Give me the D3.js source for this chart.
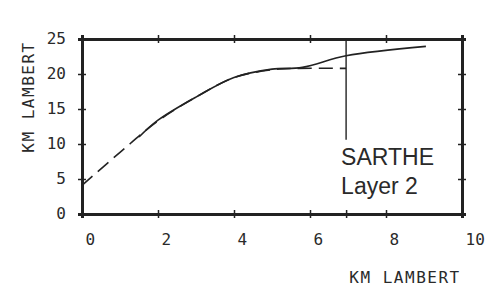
<!DOCTYPE html>
<html>
<head>
<meta charset="utf-8">
<script src="https://cdn.jsdelivr.net/npm/d3@7"></script>
<style>
  body { margin: 0; background: #fff; }
  svg { display: block; }
  .tick text { font-family: "DejaVu Sans Mono", monospace; fill: #2a2a2a; }
</style>
</head>
<body>
<svg width="502" height="287"></svg>
<script>
// values
var xTicks = [0, 2, 4, 6, 8, 10];
var yTicks = [0, 5, 10, 15, 20, 25];
var dashX = [0, 1, 2, 3, 4, 5, 5.6, 6.95];
var dashY = [4.1, 8.8, 13.3, 16.7, 19.5, 20.6, 20.8, 20.8];
var solidX = [1.5, 2, 3, 4, 5, 5.8, 6.95, 9.05];
var solidY = [11.0, 13.4, 16.7, 19.5, 20.7, 20.95, 22.6, 23.95];
var markerX = 6.95, markerTop = 10.6;

var svg = d3.select("svg");
var x = d3.scaleLinear().domain([0, 10]).range([82, 462]);
var y = d3.scaleLinear().domain([0, 25]).range([214, 39]);
var ink = "#222";

var line = d3.line()
    .x(function(d) { return x(d[0]); })
    .y(function(d) { return y(d[1]); })
    .curve(d3.curveCatmullRom.alpha(0.5));

// crossing tick marks (out + in) on all four sides
function frame(axis, tr) {
  var g = svg.append("g").attr("transform", tr).call(axis);
  g.selectAll(".tick line").attr("stroke", ink).attr("stroke-width", 1.5);
  g.select(".domain").attr("stroke", ink).attr("stroke-width", 3);
  return g;
}
frame(d3.axisBottom(x).tickValues(xTicks.concat([markerX])).tickSize(4).tickFormat(""), "translate(0,214)");
frame(d3.axisTop(x).tickValues(xTicks.concat([markerX])).tickSize(4).tickFormat(""), "translate(0,214)");
frame(d3.axisTop(x).tickValues(xTicks).tickSize(4).tickFormat(""), "translate(0,39)");
frame(d3.axisBottom(x).tickValues(xTicks).tickSize(4).tickFormat(""), "translate(0,39)");
frame(d3.axisLeft(y).tickValues(yTicks).tickSize(4).tickFormat(""), "translate(82,0)");
frame(d3.axisRight(y).tickValues(yTicks).tickSize(4).tickFormat(""), "translate(82,0)");
frame(d3.axisRight(y).tickValues(yTicks).tickSize(4).tickFormat(""), "translate(462,0)");
frame(d3.axisLeft(y).tickValues(yTicks).tickSize(4).tickFormat(""), "translate(462,0)");

// tick labels
var xl = svg.append("g").attr("transform", "translate(0,214)")
    .call(d3.axisBottom(x).tickValues(xTicks).tickSize(0).tickPadding(31));
xl.select(".domain").remove();
xl.selectAll("text").attr("font-size", 16).attr("text-anchor", "start").attr("dx", 3).attr("dy", 0);

var yl = svg.append("g").attr("transform", "translate(82,0)")
    .call(d3.axisLeft(y).tickValues(yTicks).tickSize(0).tickPadding(16));
yl.select(".domain").remove();
yl.selectAll("text").attr("font-size", 16).attr("dy", "0.28em");

// axis titles
svg.append("text")
    .attr("x", 405).attr("y", 283)
    .attr("text-anchor", "middle")
    .attr("font-family", "DejaVu Sans Mono, monospace")
    .attr("font-size", 16).attr("letter-spacing", 1.5)
    .attr("fill", "#2a2a2a")
    .text("KM LAMBERT");
svg.append("text")
    .attr("transform", "translate(34,97) rotate(-90)")
    .attr("text-anchor", "middle")
    .attr("font-family", "DejaVu Sans Mono, monospace")
    .attr("font-size", 16).attr("letter-spacing", 1.5)
    .attr("fill", "#2a2a2a")
    .text("KM LAMBERT");

// curves
svg.append("path")
    .datum(d3.zip(dashX, dashY))
    .attr("d", line)
    .attr("fill", "none").attr("stroke", ink)
    .attr("stroke-width", 1.6).attr("stroke-dasharray", "14,7");
svg.append("path")
    .datum(d3.zip(solidX, solidY))
    .attr("d", line)
    .attr("fill", "none").attr("stroke", ink)
    .attr("stroke-width", 1.6);

// marker line
svg.append("line")
    .attr("x1", x(markerX)).attr("x2", x(markerX))
    .attr("y1", y(25)).attr("y2", y(markerTop))
    .attr("stroke", ink).attr("stroke-width", 1.4);

svg.append("text")
    .attr("x", x(markerX) - 5).attr("y", 165)
    .attr("font-family", "Liberation Sans, Arial, sans-serif")
    .attr("font-size", 23).attr("fill", "#2a2a2a")
    .text("SARTHE");
svg.append("text")
    .attr("x", x(markerX) - 5).attr("y", 194)
    .attr("font-family", "Liberation Sans, Arial, sans-serif")
    .attr("font-size", 23).attr("fill", "#2a2a2a")
    .text("Layer 2");
</script>
</body>
</html>
